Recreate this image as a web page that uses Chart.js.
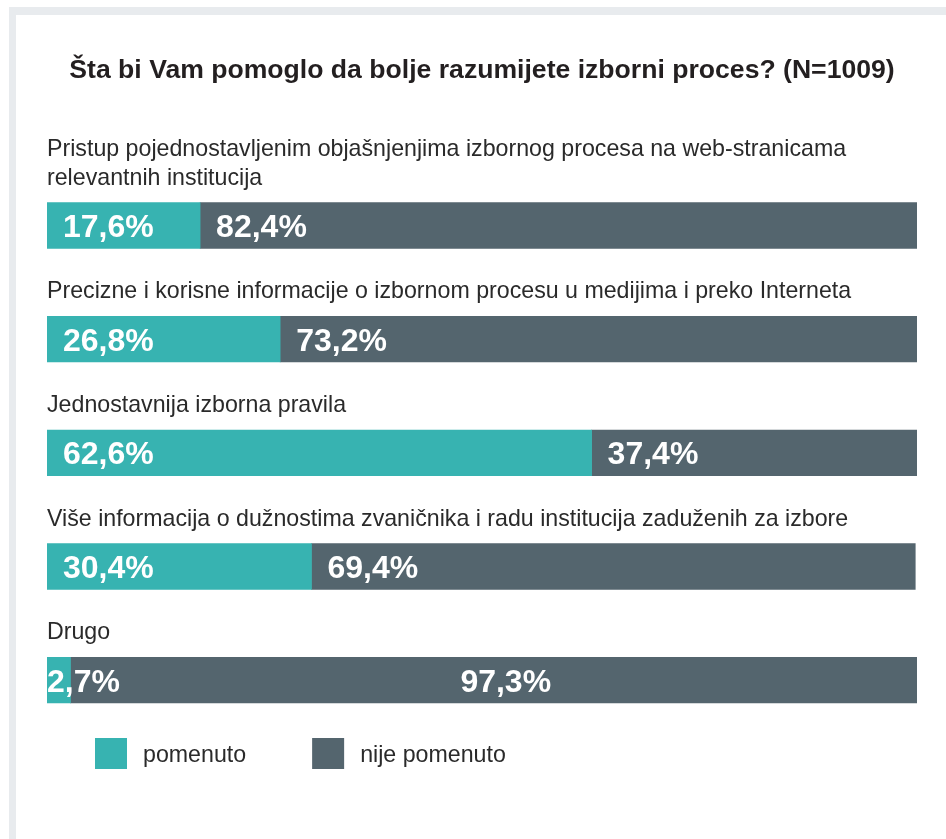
<!DOCTYPE html>
<html>
<head>
<meta charset="utf-8">
<script src="https://cdn.jsdelivr.net/npm/chart.js@4.4.1/dist/chart.umd.min.js"></script>
<style>
  html, body { margin: 0; padding: 0; background: #fff; }
  body { width: 946px; height: 839px; position: relative; overflow: hidden; }
  .frame-top { position: absolute; left: 9px; top: 7px; width: 937px; height: 8px; background: #e8ebee; }
  .frame-left { position: absolute; left: 9px; top: 7px; width: 7px; height: 832px; background: #e8ebee; }
  .wrap { position: absolute; left: 16px; top: 15px; width: 930px; height: 824px; }
</style>
</head>
<body>
<div class="frame-top"></div>
<div class="frame-left"></div>
<div class="wrap"><canvas id="myChart"></canvas></div>
<script>
const titleText = 'Šta bi Vam pomoglo da bolje razumijete izborni proces? (N=1009)';

const categories = [
  ['Pristup pojednostavljenim objašnjenjima izbornog procesa na web-stranicama', 'relevantnih institucija'],
  ['Precizne i korisne informacije o izbornom procesu u medijima i preko Interneta'],
  ['Jednostavnija izborna pravila'],
  ['Više informacija o dužnostima zvaničnika i radu institucija zaduženih za izbore'],
  ['Drugo']
];

const seriesNames = ['pomenuto', 'nije pomenuto'];
const mentioned = [17.6, 26.8, 62.6, 30.4, 2.7];
const notMentioned = [82.4, 73.2, 37.4, 69.4, 97.3];

const TEAL = '#37b3b1';
const SLATE = '#54656e';
const TEXT = '#231f20';
const LABEL = '#2a2a2a';
const FONT = '"Liberation Sans", Arial, sans-serif';

function fmt(v)
{
    return v.toFixed(1).replace('.', ',') + '%';
}

// category text above each bar + white value labels inside the segments
const barText = {
  id: 'barText',
  afterDatasetsDraw(chart) {
    const ctx = chart.ctx;
    const bars0 = chart.getDatasetMeta(0).data;
    ctx.save();

    // category labels
    ctx.font = '23.2px ' + FONT;
    ctx.fillStyle = LABEL;
    ctx.textAlign = 'left';
    ctx.textBaseline = 'alphabetic';
    for (let i = 0; i < bars0.length; ++i)
    {
        const top = bars0[i].y - bars0[i].height / 2;
        const lines = chart.data.labels[i];
        for (let k = 0; k < lines.length; ++k)
        {
            const y = top - 18 - (lines.length - 1 - k) * 29;
            ctx.fillText(lines[k], chart.chartArea.left, y);
        }
    }

    // value labels
    ctx.font = 'bold 32px ' + FONT;
    ctx.fillStyle = '#ffffff';
    chart.data.datasets.forEach((ds, d) => {
      const meta = chart.getDatasetMeta(d);
      meta.data.forEach((bar, i) => {
        const start = Math.min(bar.base, bar.x);
        const end = Math.max(bar.base, bar.x);
        const w = end - start;
        const txt = fmt(ds.data[i]);
        const baseY = bar.y + 11.5;
        if (w > (chart.chartArea.right - chart.chartArea.left) * 0.9) {
          ctx.textAlign = 'center';
          ctx.fillText(txt, (start + end) / 2 + 12, baseY);
        } else if (w < 40) {
          ctx.textAlign = 'left';
          ctx.fillText(txt, start, baseY);
        } else {
          ctx.textAlign = 'left';
          ctx.fillText(txt, start + 16, baseY);
        }
      });
    });
    ctx.restore();
  }
};

// legend drawn below the plot
const legendBoxes = {
  id: 'legendBoxes',
  afterDraw(chart) {
    const ctx = chart.ctx;
    ctx.save();
    ctx.font = '23.2px ' + FONT;
    ctx.textAlign = 'left';
    ctx.textBaseline = 'alphabetic';
    let x = chart.chartArea.left + 48;
    const y = chart.chartArea.bottom + 1;
    chart.data.datasets.forEach((ds) => {
      ctx.fillStyle = ds.backgroundColor;
      ctx.fillRect(x, y, 32, 31);
      ctx.fillStyle = LABEL;
      ctx.fillText(ds.label, x + 48, y + 24);
      x += 48 + ctx.measureText(ds.label).width + 66;
    });
    ctx.restore();
  }
};

const data = {
  labels: categories,
  datasets: [
    { label: seriesNames[0], data: mentioned, backgroundColor: TEAL, borderWidth: 0 },
    { label: seriesNames[1], data: notMentioned, backgroundColor: SLATE, borderWidth: 0 }
  ]
};

const config = {
  type: 'bar',
  data: data,
  plugins: [barText, legendBoxes],
  options: {
    indexAxis: 'y',
    responsive: false,
    animation: false,
    maintainAspectRatio: false,
    layout: { padding: { left: 31, right: 29, top: 0, bottom: 102 } },
    barThickness: 45.7,
    scales: {
      x: { stacked: true, min: 0, max: 100, display: false },
      y: { stacked: true, display: false }
    },
    plugins: {
      legend: { display: false },
      tooltip: { enabled: false },
      title: {
        display: true,
        text: titleText,
        color: TEXT,
        font: { family: FONT, size: 26.6, weight: 'bold' },
        padding: { top: 39.5, bottom: 82.2 }
      }
    }
  }
};

const cv = document.getElementById('myChart');
cv.width = 930;
cv.height = 824;
cv.style.width = '930px';
cv.style.height = '824px';
const myChart = new Chart(cv, config);
</script>
</body>
</html>
